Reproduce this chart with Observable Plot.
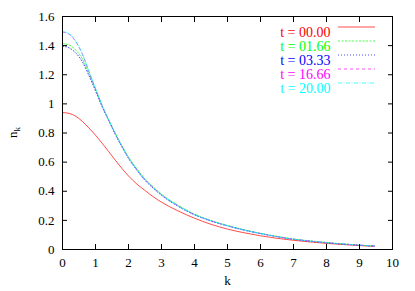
<!DOCTYPE html>
<html>
<head>
<meta charset="utf-8">
<script src="https://cdn.jsdelivr.net/npm/d3@7"></script>
<script src="https://cdn.jsdelivr.net/npm/@observablehq/plot@0.6"></script>
<style>
  html, body { margin: 0; padding: 0; background: #fff; }
  #chart svg { display: block; }
  #chart svg, #chart svg text { font-family: "Liberation Serif", "DejaVu Serif", serif !important; }
</style>
</head>
<body>
<div id="chart"></div>
<script>
const kValues = [0, 0.2, 0.4, 0.6, 0.8, 1.0, 1.2, 1.4, 1.6, 1.8, 2.0, 2.25, 2.5, 2.75, 3.0, 3.5, 4.0, 4.5, 5.0, 5.5, 6.0, 6.5, 7.0, 7.5, 8.0, 8.5, 9.0, 9.45];

const seriesLabels = ["t = 00.00", "t = 01.66", "t = 03.33", "t = 16.66", "t = 20.00"];
const seriesColors = ["#ff0000", "#00ff00", "#0000ff", "#ff00ff", "#00ffff"];
const seriesDash = ["none", "2,1.5", "1,2", "3,3", "4,1.5,1,1.5"];

const n_t0000 = [0.94, 0.935, 0.915, 0.88, 0.835, 0.785, 0.73, 0.672, 0.613, 0.557, 0.505, 0.45, 0.405, 0.362, 0.325, 0.265, 0.215, 0.173, 0.14, 0.115, 0.094, 0.077, 0.063, 0.052, 0.042, 0.034, 0.027, 0.022];
const n_t0166 = [1.413, 1.405, 1.37, 1.31, 1.21, 1.1, 0.988, 0.892, 0.799, 0.714, 0.635, 0.555, 0.485, 0.43, 0.38, 0.304, 0.243, 0.199, 0.165, 0.136, 0.111, 0.09, 0.072, 0.059, 0.048, 0.038, 0.03, 0.024];
const n_t0333 = [1.396, 1.385, 1.35, 1.29, 1.195, 1.09, 0.98, 0.885, 0.79, 0.705, 0.626, 0.545, 0.475, 0.42, 0.372, 0.297, 0.238, 0.195, 0.162, 0.133, 0.109, 0.088, 0.07, 0.057, 0.046, 0.037, 0.029, 0.023];
const n_t1666 = [1.493, 1.479, 1.428, 1.343, 1.224, 1.104, 0.989, 0.889, 0.794, 0.709, 0.63, 0.55, 0.48, 0.425, 0.376, 0.3, 0.24, 0.197, 0.163, 0.134, 0.11, 0.089, 0.071, 0.058, 0.047, 0.038, 0.03, 0.024];
const n_t2000 = [1.497, 1.482, 1.43, 1.345, 1.225, 1.105, 0.99, 0.89, 0.795, 0.71, 0.63, 0.55, 0.48, 0.425, 0.376, 0.3, 0.24, 0.197, 0.163, 0.134, 0.11, 0.089, 0.071, 0.058, 0.047, 0.038, 0.03, 0.024];

const seriesValues = [n_t0000, n_t0166, n_t0333, n_t1666, n_t2000];

const xTicks = [0, 1, 2, 3, 4, 5, 6, 7, 8, 9, 10];
const yTicks = [0, 0.2, 0.4, 0.6, 0.8, 1, 1.2, 1.4, 1.6];

const rows = [];
seriesValues.forEach((vals, s) => {
  vals.forEach((v, i) => rows.push({series: seriesLabels[s], k: kValues[i], n: v, s}));
});

const font = "Liberation Serif, DejaVu Serif, serif";
const W = 415, H = 291;
const mL = 62, mR = 23, mT = 16, mB = 42;

const lineMarks = seriesLabels.map((lab, s) =>
  Plot.line(rows.filter(d => d.s === s), {
    x: "k", y: "n", stroke: seriesColors[s], strokeWidth: 0.7,
    strokeDasharray: seriesDash[s], curve: "monotone-x"
  })
);

const legendText = seriesLabels.map((lab, s) =>
  Plot.text([lab], {
    frameAnchor: "top-right", text: d => d, fill: seriesColors[s],
    textAnchor: "end", dx: -62, dy: 11 + 14 * s, fontSize: 14
  })
);

const fmtY = d => (d === 0 ? "0" : d === 1 ? "1" : d3.format(".1f")(d));

const plot = Plot.plot({
  width: W, height: H,
  marginLeft: mL, marginRight: mR, marginTop: mT, marginBottom: mB,
  style: {fontFamily: font, fontSize: "13px", color: "#000", background: "#fff"},
  x: {domain: [0, 10], label: null},
  y: {domain: [0, 1.6], label: null},
  marks: [
    ...lineMarks,
    Plot.frame({stroke: "#000", strokeWidth: 1}),
    Plot.axisX(xTicks, {anchor: "bottom", tickSize: -5, tickPadding: 13, tickFormat: d => String(d), fontSize: 13}),
    Plot.axisX(xTicks, {anchor: "top", tickSize: -5, tickFormat: () => ""}),
    Plot.axisY(yTicks, {anchor: "left", tickSize: -5, tickPadding: 13, tickFormat: fmtY, fontSize: 13}),
    Plot.axisY(yTicks, {anchor: "right", tickSize: -5, tickFormat: () => ""}),
    ...legendText,
    Plot.text(["k"], {frameAnchor: "bottom", text: d => d, dy: 35, fontSize: 13}),
  ]
});

document.getElementById("chart").appendChild(plot);

// y-axis title n_k with subscript, and legend line samples
const svg = d3.select(plot);
const yl = svg.append("text")
  .attr("transform", `translate(17, ${mT + (H - mT - mB) / 2}) rotate(-90)`)
  .attr("text-anchor", "middle")
  .attr("font-family", font)
  .attr("font-size", 13)
  .attr("fill", "#000");
yl.append("tspan").text("n");
yl.append("tspan").attr("font-size", 9).attr("dy", 3).text("k");

seriesLabels.forEach((lab, s) => {
  const y = mT + 11 + 14 * s;
  svg.append("line")
    .attr("x1", 338).attr("x2", 375)
    .attr("y1", y).attr("y2", y)
    .attr("stroke", seriesColors[s])
    .attr("stroke-width", 0.7)
    .attr("stroke-dasharray", seriesDash[s]);
});
</script>
</body>
</html>
